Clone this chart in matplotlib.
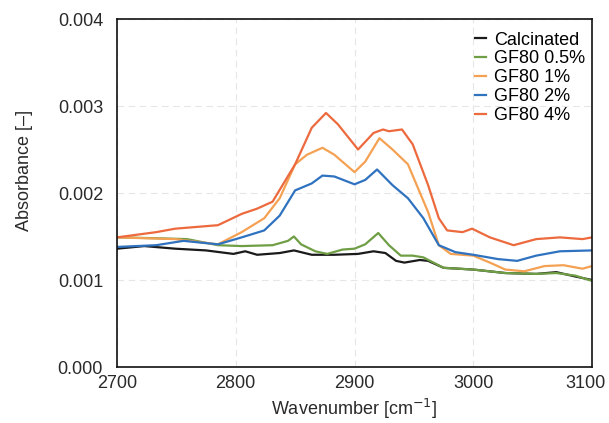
import matplotlib
matplotlib.use("Agg")
import matplotlib.pyplot as plt
from matplotlib.transforms import ScaledTranslation

plt.rcParams['font.family'] = ['Liberation Sans', 'DejaVu Sans']

# Calcinated
wn_cal = [2700, 2723, 2749, 2775, 2798, 2808, 2818, 2837, 2849, 2864, 2883, 2903,
          2916, 2926, 2935, 2942, 2955, 2962, 2975, 3000, 3027, 3053, 3070, 3086, 3100]
abs_cal = [1.36, 1.39, 1.36, 1.34, 1.30, 1.33, 1.29, 1.31, 1.34, 1.29, 1.29, 1.30,
           1.33, 1.31, 1.22, 1.20, 1.23, 1.22, 1.14, 1.12, 1.08, 1.07, 1.09, 1.04, 1.00]

# GF80 0.5%
wn_05 = [2700, 2733, 2759, 2785, 2805, 2831, 2844, 2849, 2855, 2867, 2877, 2890, 2900,
         2909, 2920, 2929, 2939, 2949, 2958, 2975, 3000, 3027, 3053, 3070, 3086, 3100]
abs_05 = [1.49, 1.48, 1.47, 1.40, 1.39, 1.40, 1.45, 1.50, 1.41, 1.33, 1.30, 1.35, 1.36,
          1.41, 1.54, 1.40, 1.28, 1.28, 1.26, 1.14, 1.12, 1.08, 1.07, 1.08, 1.05, 0.99]

# GF80 1%
wn_1 = [2700, 2749, 2785, 2805, 2824, 2837, 2850, 2860, 2873, 2883, 2900, 2909, 2921,
        2932, 2945, 2962, 2971, 2981, 3000, 3014, 3027, 3043, 3060, 3076, 3092, 3100]
abs_1 = [1.49, 1.47, 1.41, 1.55, 1.71, 1.94, 2.33, 2.44, 2.52, 2.44, 2.24, 2.36, 2.63,
         2.50, 2.33, 1.78, 1.40, 1.30, 1.28, 1.20, 1.12, 1.10, 1.16, 1.17, 1.13, 1.16]

# GF80 2%
wn_2 = [2700, 2733, 2756, 2785, 2805, 2824, 2837, 2850, 2864, 2873, 2883, 2900, 2909,
        2919, 2932, 2945, 2958, 2971, 2985, 3000, 3021, 3037, 3053, 3073, 3100]
abs_2 = [1.38, 1.40, 1.45, 1.41, 1.49, 1.57, 1.74, 2.03, 2.11, 2.20, 2.19, 2.10, 2.15,
         2.27, 2.09, 1.94, 1.71, 1.40, 1.32, 1.29, 1.24, 1.22, 1.28, 1.33, 1.34]

# GF80 4%
wn_4 = [2700, 2733, 2749, 2785, 2805, 2818, 2831, 2850, 2864, 2876, 2886, 2903, 2916,
        2924, 2929, 2940, 2949, 2962, 2971, 2978, 2991, 2999, 3014, 3034, 3053, 3073,
        3092, 3100]
abs_4 = [1.49, 1.55, 1.59, 1.63, 1.76, 1.82, 1.90, 2.33, 2.75, 2.92, 2.79, 2.50, 2.69,
         2.73, 2.71, 2.73, 2.56, 2.09, 1.71, 1.57, 1.55, 1.59, 1.49, 1.40, 1.47, 1.49,
         1.47, 1.49]

labels = ["Calcinated", "GF80 0.5%", "GF80 1%", "GF80 2%", "GF80 4%"]
colors = ["#1a1a1a", "#6f9e45", "#f5a153", "#2f72bf", "#ec6a3e"]
series = [(wn_cal, abs_cal), (wn_05, abs_05), (wn_1, abs_1), (wn_2, abs_2), (wn_4, abs_4)]

fig = plt.figure(figsize=(6.09, 4.23), dpi=100)
ax = fig.add_axes([117 / 609, (423 - 367) / 423, 475 / 609, 348 / 423])

for (x, y), lab, c in zip(series, labels, colors):
    ax.plot(x, [v * 1e-3 for v in y], color=c, lw=1.6, label=lab)

FS = 13
ax.set_xlim(2700, 3100)
ax.set_ylim(0, 0.004)
ax.set_xticks([2700, 2800, 2900, 3000, 3100])
ax.set_yticks([0.0, 0.001, 0.002, 0.003, 0.004])
ax.set_yticklabels(["0.000", "0.001", "0.002", "0.003", "0.004"])
ax.tick_params(length=0, labelsize=FS, colors="#2a2a2a")
ax.tick_params(axis="x", pad=6)
ax.tick_params(axis="y", pad=10)
ax.grid(True, color="#e6e6e6", linestyle=(0, (6, 4)), lw=0.8)
for s in ax.spines.values():
    s.set_color("#111111")
    s.set_linewidth(1.2)

# keep last x tick label inside the figure, as in the reference
last = ax.get_xticklabels()[-1]
last.set_transform(last.get_transform() + ScaledTranslation(-7 / 100, 0, fig.dpi_scale_trans))

ax.set_xlabel("Wavenumber [cm$^{-1}$]", fontsize=FS, color="#2a2a2a", labelpad=3)
ax.set_ylabel("Absorbance [–]", fontsize=FS, color="#2a2a2a")
ax.yaxis.set_label_coords(-0.177, 0.566)

ax.legend(loc="upper right", bbox_to_anchor=(1.013, 1.0), frameon=False, fontsize=FS,
          handlelength=0.65, handletextpad=0.45, labelspacing=0.1,
          borderaxespad=0.0, borderpad=0.7)

fig.savefig("out.png", dpi=100)
